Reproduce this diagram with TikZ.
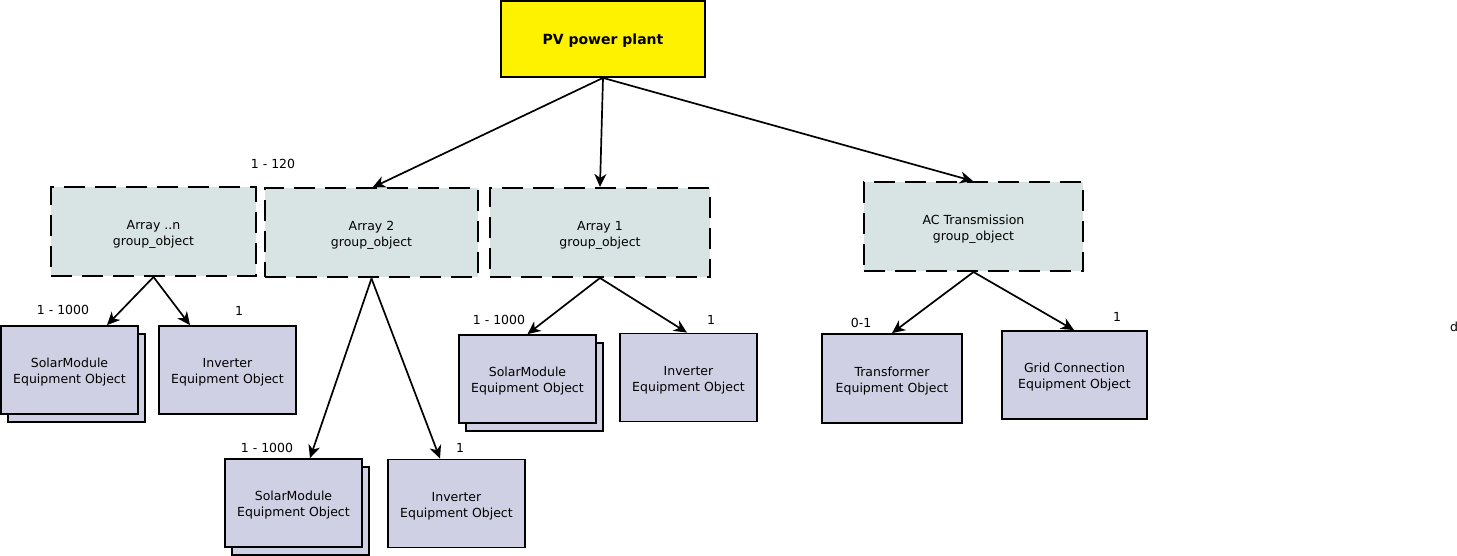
\documentclass[tikz,border=0pt]{standalone}
\usepackage{fontspec}
\setmainfont{DejaVu Sans}
\usetikzlibrary{arrows.meta,shadows}
\definecolor{grpfill}{RGB}{216,228,228}
\definecolor{eqfill}{RGB}{208,208,228}
\tikzset{
  basefont/.style={font=\fontsize{12.5}{16}\selectfont},
  txt/.style={label={[basefont, align=center, inner sep=0pt, yshift=-2.5pt]center:{#1}}},
  topbox/.style={draw=black, line width=1.8pt, fill=yellow, minimum width=204pt, minimum height=76pt, inner sep=0pt},
  grpbox/.style={draw=black, line width=2pt, dash pattern=on 21pt off 10pt, fill=grpfill, minimum height=89pt, inner sep=0pt},
  eqbox/.style={draw=black, line width=1.8pt, fill=eqfill, minimum height=88pt, inner sep=0pt},
  stackbox/.style={eqbox, copy shadow={shadow xshift=7pt, shadow yshift=-8pt, draw=black, line width=1.8pt, fill=eqfill}},
  lbl/.style={inner sep=0pt, basefont},
  conn/.style={line width=1.7pt, -{Stealth[length=13pt,width=12pt,inset=4pt]}},
}
\begin{document}
\begin{tikzpicture}[x=1pt,y=-1pt]
\useasboundingbox (0,0) rectangle (1457,556);
% top
\node[topbox, label={[font=\fontsize{14}{16}\selectfont\bfseries, inner sep=0pt, yshift=-2pt]center:PV power plant}] (pv) at (603,39) {};
% groups
\node[grpbox, minimum width=205pt, txt={Array ..n\\group\_object}] (arrn) at (153.5,231.5) {};
\node[grpbox, minimum width=213pt, txt={Array 2\\group\_object}] (arr2) at (371.5,233) {};
\node[grpbox, minimum width=220pt, txt={Array 1\\group\_object}] (arr1) at (600,232.5) {};
\node[grpbox, minimum width=219pt, txt={AC Transmission\\group\_object}] (ac) at (973.5,226.5) {};
% equipment under Array ..n
\node[stackbox, minimum width=137pt, txt={SolarModule\\Equipment Object}] (smn) at (69.5,370) {};
\node[eqbox, minimum width=137pt, txt={Inverter\\Equipment Object}] (invn) at (227.5,370) {};
% equipment under Array 2
\node[stackbox, minimum width=137pt, txt={SolarModule\\Equipment Object}] (sm2) at (293.5,503) {};
\node[eqbox, minimum width=137pt, txt={Inverter\\Equipment Object}] (inv2) at (456.5,503.5) {};
% equipment under Array 1
\node[stackbox, minimum width=137pt, txt={SolarModule\\Equipment Object}] (sm1) at (527.5,379) {};
\node[eqbox, minimum width=137pt, txt={Inverter\\Equipment Object}] (inv1) at (688.5,377.5) {};
% AC
\node[eqbox, minimum width=140pt, minimum height=89pt, txt={Transformer\\Equipment Object}] (tr) at (892,378.5) {};
\node[eqbox, minimum width=145pt, txt={Grid Connection\\Equipment Object}] (grid) at (1074.5,375) {};
% labels
\node[lbl] (l120) at (273,164) {1 - 120};
\node[lbl] (lsmn) at (63,310) {1 - 1000};
\node[lbl] (linvn) at (239,311) {1};
\node[lbl] (lsm2) at (267,448) {1 - 1000};
\node[lbl] (linv2) at (460,448) {1};
\node[lbl] (lsm1) at (499,320) {1 - 1000};
\node[lbl] (linv1) at (711,320) {1};
\node[lbl] (ltr) at (861,323) {0-1};
\node[lbl] (lgrid) at (1117,317) {1};
\node[lbl] (ld) at (1454,327) {d};
% connectors
\draw[conn] (pv.south) -- ([xshift=1pt]arr2.north);
\draw[conn] (pv.south) -- (arr1.north);
\draw[conn] (pv.south) -- ([xshift=-0.5pt]ac.north);
\draw[conn] (arrn.south) -- ([xshift=37.5pt]smn.north);
\draw[conn] (arrn.south) -- ([xshift=-37.5pt]invn.north);
\draw[conn] (arr2.south) -- ([xshift=16.5pt]sm2.north);
\draw[conn] (arr2.south) -- ([xshift=-16.5pt]inv2.north);
\draw[conn] (arr1.south) -- (sm1.north);
\draw[conn] (arr1.south) -- ([xshift=-1.5pt]inv1.north);
\draw[conn] (ac.south) -- (tr.north);
\draw[conn] (ac.south) -- ([xshift=-0.5pt]grid.north);
\end{tikzpicture}
\end{document}
